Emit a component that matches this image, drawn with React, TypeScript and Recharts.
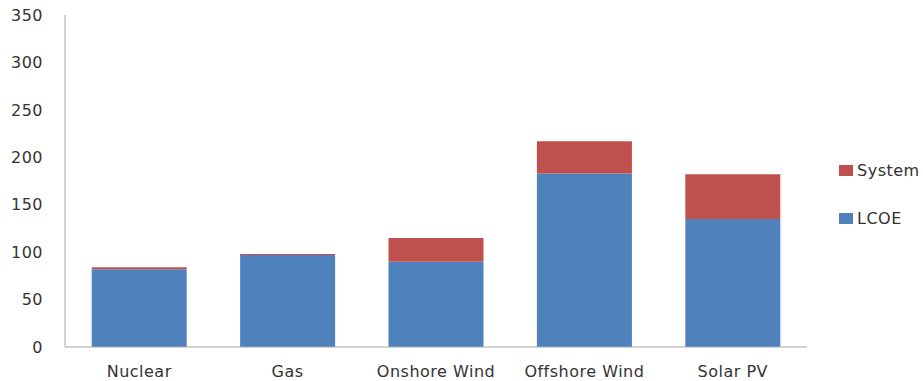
import { BarChart, Bar, XAxis, YAxis } from "recharts";

const technologies = ["Nuclear", "Gas", "Onshore Wind", "Offshore Wind", "Solar PV"];
const lcoe = [82, 97, 90, 183, 135];
const system = [2, 1, 25, 34, 47];
const yTicks = [0, 50, 100, 150, 200, 250, 300, 350];

const seriesNames = ["LCOE", "System"];
const seriesColors = ["#4f81bd", "#c0504d"];

const data = technologies.map((name, i) => ({
  name,
  LCOE: lcoe[i],
  System: system[i],
}));

const font = "'DejaVu Sans', sans-serif";
const tickStyle = { fill: "#333", fontSize: 16, fontFamily: font, letterSpacing: 0.5 };

// legend lists the top of the stack first, like the reference
const LegendBox = () => (
  <div
    style={{
      position: "absolute",
      left: 839,
      top: 158,
      fontFamily: font,
      fontSize: 16,
      letterSpacing: 0.5,
      color: "#333",
    }}
  >
    {seriesNames
      .map((n, i) => ({ n, c: seriesColors[i] }))
      .reverse()
      .map((s) => (
        <div key={s.n} style={{ display: "flex", alignItems: "center", height: 24, marginBottom: 24 }}>
          <span
            style={{ display: "inline-block", width: 14, height: 11, background: s.c, marginRight: 4 }}
          />
          <span>{s.n}</span>
        </div>
      ))}
  </div>
);

const App = () => {
  return (
    <div style={{ position: "absolute", left: 0, top: 0, width: 923, height: 381, background: "#fff" }}>
      <BarChart
        width={923}
        height={381}
        data={data}
        margin={{ top: 15, right: 116, bottom: 0, left: 0 }}
        barCategoryGap="18%"
      >
        <XAxis
          dataKey="name"
          height={34}
          tickLine={false}
          tickMargin={13}
          axisLine={{ stroke: "#a6a6a6" }}
          tick={tickStyle}
        />
        <YAxis
          width={65}
          domain={[0, 350]}
          ticks={yTicks}
          tickLine={false}
          tickMargin={16}
          axisLine={{ stroke: "#a6a6a6" }}
          tick={tickStyle}
        />
        <Bar dataKey="LCOE" stackId="a" fill={seriesColors[0]} isAnimationActive={false} />
        <Bar dataKey="System" stackId="a" fill={seriesColors[1]} isAnimationActive={false} />
      </BarChart>
      <LegendBox />
    </div>
  );
};

export default App;
